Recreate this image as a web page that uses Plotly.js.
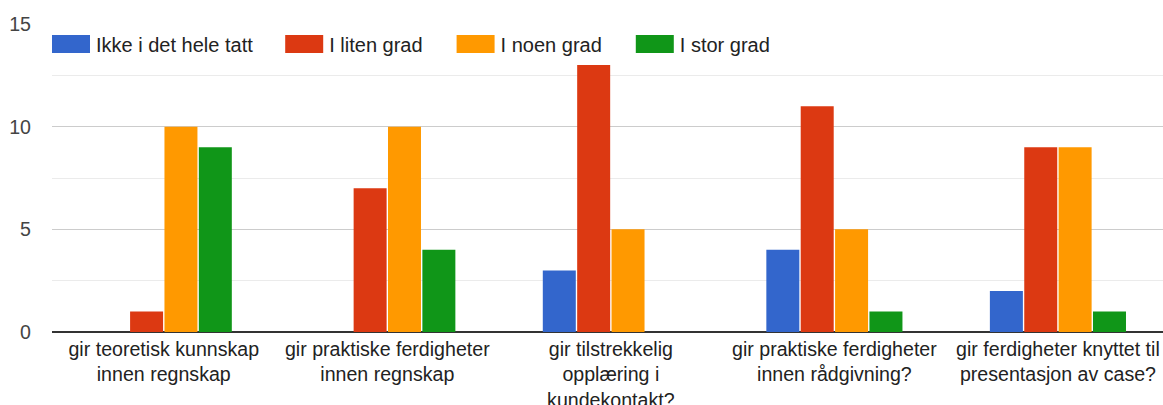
<!DOCTYPE html>
<html>
<head>
<meta charset="utf-8">
<script src="https://cdn.plot.ly/plotly-3.0.1.min.js"></script>
<style>html,body{margin:0;padding:0;background:#fff;}#chart{width:1163px;height:405px;}</style>
</head>
<body>
<div id="chart"></div>
<script>
var categories = [
  "gir teoretisk kunnskap<br>innen regnskap",
  "gir praktiske ferdigheter<br>innen regnskap",
  "gir tilstrekkelig<br>opplæring i<br>kundekontakt?",
  "gir praktiske ferdigheter<br>innen rådgivning?",
  "gir ferdigheter knyttet til<br>presentasjon av case?"
];
var seriesNames = ["Ikke i det hele tatt", "I liten grad", "I noen grad", "I stor grad"];
var ikke = [0, 0, 3, 4, 2];
var liten = [1, 7, 13, 11, 9];
var noen = [10, 10, 5, 5, 9];
var stor = [9, 4, 0, 1, 1];
var colors = ["#3366cc", "#dc3912", "#ff9900", "#109618"];
var yTicks = [0, 5, 10, 15];

var values = [ikke, liten, noen, stor];
var traces = values.map(function (v, i) {
  return {
    type: "bar",
    name: seriesNames[i],
    x: [0, 1, 2, 3, 4],
    y: v,
    marker: { color: colors[i], line: { width: 0 } },
    hoverinfo: "none"
  };
});

var layout = {
  width: 1163,
  height: 405,
  margin: { l: 52, r: 0, t: 24, b: 73 },
  paper_bgcolor: "#ffffff",
  plot_bgcolor: "#ffffff",
  font: { family: "Liberation Sans, Arial, sans-serif", size: 19.6, color: "#222222" },
  barmode: "group",
  bargap: 0.385,
  bargroupgap: 0.04,
  showlegend: true,
  legend: {
    orientation: "h",
    x: 0, xanchor: "left",
    y: 0.935, yanchor: "middle",
    font: { size: 20, color: "#222222" },
    itemwidth: 34,
    bgcolor: "rgba(0,0,0,0)",
    traceorder: "normal",
    itemclick: false
  },
  xaxis: {
    tickmode: "array",
    tickvals: [0, 1, 2, 3, 4],
    ticktext: categories,
    range: [-0.5, 4.47],
    showgrid: false,
    zeroline: false,
    showline: false,
    ticks: "",
    ticklabelstandoff: 3,
    tickfont: { size: 19.6, color: "#222222" },
    fixedrange: true
  },
  yaxis: {
    range: [0, 15],
    tickmode: "array",
    tickvals: yTicks,
    ticktext: yTicks.map(String),
    showgrid: true,
    gridcolor: "#cccccc",
    gridwidth: 1,
    minor: { dtick: 2.5, showgrid: true, gridcolor: "#ebebeb", gridwidth: 1 },
    zeroline: true,
    zerolinecolor: "#333333",
    zerolinewidth: 2,
    ticks: "",
    ticklabelstandoff: 20,
    tickfont: { size: 19.6, color: "#444444" },
    fixedrange: true
  }
};

var legendShift = [0, 27, 56, 85];

Plotly.newPlot("chart", traces, layout, { displayModeBar: false, staticPlot: true }).then(function () {
  var legend = document.querySelector(".legend");
  if (!legend) return;
  legend.querySelectorAll("[clip-path]").forEach(function (el) { el.removeAttribute("clip-path"); });
  legend.querySelectorAll(".legendpoints path").forEach(function (p) {
    p.setAttribute("d", "M16,9H-22V-9H16Z");
  });
  legend.querySelectorAll(".traces").forEach(function (g, i) {
    var t = g.getAttribute("transform") || "";
    var m = t.match(/translate\(\s*([-\d.e]+)[ ,]+([-\d.e]+)\s*\)/);
    if (m) {
      g.setAttribute("transform", "translate(" + (parseFloat(m[1]) + (legendShift[i] || 0)) + "," + m[2] + ")");
    }
  });
});
</script>
</body>
</html>
